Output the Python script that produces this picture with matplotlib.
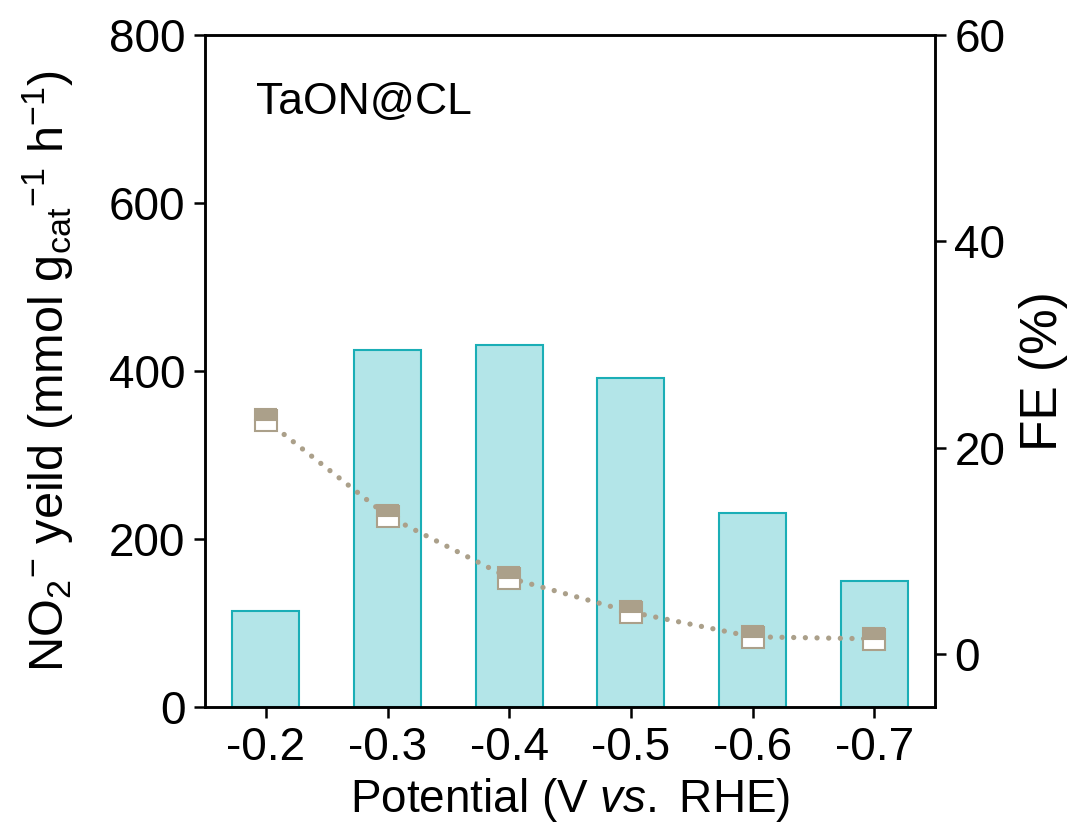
import numpy as np
import matplotlib.pyplot as plt

plt.rcParams['font.family'] = ['Liberation Sans', 'DejaVu Sans']
plt.rcParams['mathtext.fontset'] = 'custom'
plt.rcParams['mathtext.rm'] = 'Liberation Sans'
plt.rcParams['mathtext.it'] = 'Liberation Sans:italic'

# potential (V vs. RHE), NO2- yield and faradaic efficiency
potentials = ['-0.2', '-0.3', '-0.4', '-0.5', '-0.6', '-0.7']
yield_vals = [114, 425, 431, 392, 231, 150]
fe_vals = [22.7, 13.4, 7.4, 4.1, 1.7, 1.5]

bar_face = '#b3e5e8'
bar_edge = '#1aaeb6'
fe_color = '#aba08a'

fig = plt.figure(figsize=(10.71, 8.27), dpi=100)
ax = fig.add_axes([205 / 1071, 1 - 707 / 827, 730 / 1071, 672 / 827])
x = np.arange(len(potentials))

ax.bar(x, yield_vals, width=0.55, color=bar_face, edgecolor=bar_edge, linewidth=1.5, zorder=2)
ax.set_xlim(-0.5, 5.5)
ax.set_ylim(0, 800)
ax.set_yticks([0, 200, 400, 600, 800])
ax.set_xticks(x)
ax.set_xticklabels(potentials)
ax.tick_params(axis='both', direction='out', length=8, width=1.8, labelsize=33, pad=6)
ax.set_xlabel(r'Potential (V $\it{vs.}$ RHE)', fontsize=33, labelpad=4)
ax.set_ylabel(r'NO$_2$$^{-}$ yeild (mmol g$_{\rm cat}$$^{-1}$ h$^{-1}$)', fontsize=35, labelpad=24)
for s in ax.spines.values():
    s.set_linewidth(1.8)
ax.text(0.07, 0.9, 'TaON@CL', transform=ax.transAxes, fontsize=32, ha='left', va='center')

ax2 = ax.twinx()
ax2.plot(x, fe_vals, linestyle=(0, (0.01, 2.2)), dash_capstyle='round', linewidth=3.8,
         color=fe_color, zorder=3)
ax2.plot(x, fe_vals, linestyle='none', marker='s', markersize=16, fillstyle='top',
         markerfacecolor=fe_color, markerfacecoloralt='white', markeredgecolor=fe_color,
         markeredgewidth=1.5, zorder=4)
ax2.set_ylim(-5.1, 60)
ax2.set_yticks([0, 20, 40, 60])
ax2.tick_params(axis='y', direction='out', length=8, width=1.8, labelsize=33, pad=6)
ax2.set_ylabel('FE (%)', fontsize=37, labelpad=10)
for s in ax2.spines.values():
    s.set_linewidth(1.8)

fig.savefig('out.png', dpi=100)
